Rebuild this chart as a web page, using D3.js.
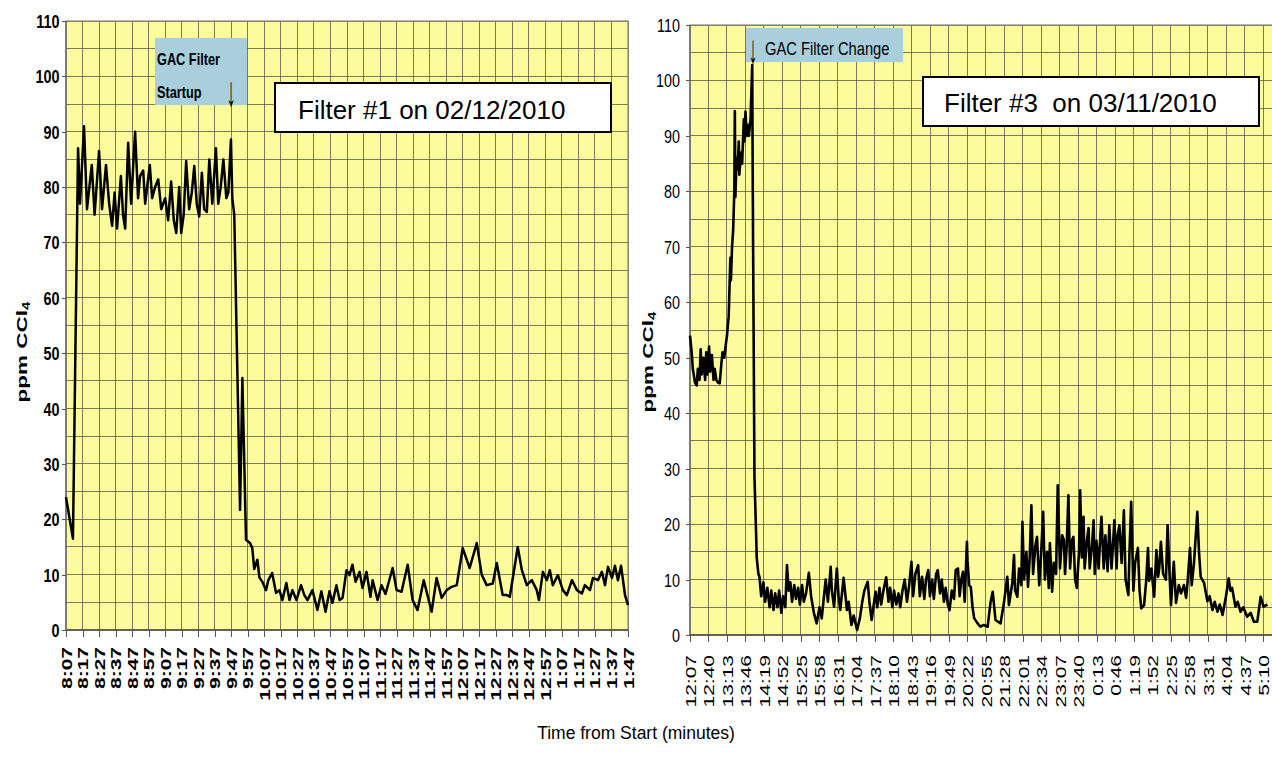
<!DOCTYPE html>
<html lang="en">
<head>
  <meta charset="UTF-8">
  <title>GAC filter CCl4</title>
</head>
<body>
<style>
  * {
    padding: 0;
    margin: 0;
  }

  body {
    background: #fff;
  }

  #chart text {
    font-family: Arial, "Liberation Sans", sans-serif;
    fill: #000;
  }

  .grid line {
    stroke: #5d5d45;
    stroke-width: 1;
    opacity: .8;
    shape-rendering: crispEdges;
  }

  .axis path {
    display: none;
  }

  .axis line {
    stroke: #555;
    shape-rendering: crispEdges;
  }
</style>

<div id="app"></div>

<script src="https://cdn.jsdelivr.net/npm/d3@7/dist/d3.min.js"></script>

<script>
  // tick labels (x = clock time, y = ppm)
  const leftTicks = ["8:07", "8:17", "8:27", "8:37", "8:47", "8:57", "9:07", "9:17", "9:27", "9:37", "9:47", "9:57",
    "10:07", "10:17", "10:27", "10:37", "10:47", "10:57", "11:07", "11:17", "11:27", "11:37", "11:47", "11:57",
    "12:07", "12:17", "12:27", "12:37", "12:47", "12:57", "1:07", "1:17", "1:27", "1:37", "1:47"];

  const rightTicks = ["12:07", "12:40", "13:13", "13:46", "14:19", "14:52", "15:25", "15:58", "16:31", "17:04",
    "17:37", "18:10", "18:43", "19:16", "19:49", "20:22", "20:55", "21:28", "22:01", "22:34", "23:07", "23:40",
    "0:13", "0:46", "1:19", "1:52", "2:25", "2:58", "3:31", "4:04", "4:37", "5:10"];

  const yTicks = [0, 10, 20, 30, 40, 50, 60, 70, 80, 90, 100, 110];

  // Filter #1 : minutes after 8:07 and ppm CCl4
  const leftTime = [0, 4.2, 7.3, 8.5, 10.9, 12.7, 15.6, 17.3, 20, 21.8,
    24.2, 26.1, 27.9, 29.4, 30.9, 33.2, 34.5, 35.8, 37.6, 39.4,
    41.8, 43.6, 44.8, 46.7, 47.9, 50.7, 52.1, 53.9, 55.8, 57.6,
    60, 61.8, 63.6, 65.2, 66.7, 68.5, 69.7, 71.2, 72.7, 74.5,
    76.1, 77.6, 79.1, 80.6, 82.2, 83.6, 85.2, 86.7, 88.5, 90.7,
    92.1, 93.6, 95.2, 97, 98.2, 99.8, 100.6, 101.8, 105.3, 106.7,
    108.9, 111.3, 112.7, 113.9, 115.8, 117, 118.8, 121, 122.4, 124.7,
    127.1, 129.1, 130.9, 133.3, 135.2, 137, 139.4, 142.2, 144.2, 146.1,
    149.1, 152.1, 154.5, 157, 159.4, 161.2, 163.6, 165.5, 167.3, 169.7,
    171.5, 173.3, 175.2, 177.6, 179.4, 181.8, 184.2, 185.5, 188.5, 190.9,
    193.3, 197.6, 200, 203, 206.7, 209.7, 212.7, 216.4, 221.2, 224.2,
    227.3, 230.3, 233.3, 236.4, 240, 244.2, 248.5, 251.5, 254.5, 258.2,
    260.6, 264.2, 266.7, 268.5, 273.3, 275.8, 278.8, 281.8, 284.8, 286.1,
    288.5, 290.9, 292.7, 294.5, 297.6, 300.6, 303, 306.1, 309.1, 312.1,
    313.9, 317, 318.8, 321.8, 324.2, 326.1, 327.9, 330.3, 332.1, 333.9,
    335.8, 338.2, 340];

  const leftPpm = [24, 16.5, 87, 77, 91, 76, 84, 75, 86.5, 76,
    84, 77, 73, 79, 72.5, 82, 75, 72.5, 88, 77,
    90, 78, 82, 83, 77, 84, 78, 80, 81.4, 76,
    78, 74, 81, 74, 71.7, 80, 71.7, 75, 84.7, 76,
    79, 83.8, 77, 74.7, 82.6, 76, 75.5, 85, 77, 87,
    77, 80, 85, 78, 79, 88.6, 78, 75, 21.7, 45.5,
    16.3, 15.7, 14.8, 11, 12.7, 9.5, 8.7, 7.2, 9, 10.3,
    6.7, 7.2, 5.4, 8.5, 5.4, 7.2, 5.4, 8.1, 6.3, 5.4,
    7.2, 3.6, 7, 3.3, 7, 4.9, 8.1, 5.4, 5.8, 10.8,
    9.9, 11.8, 8.7, 10.5, 7.6, 10.5, 6, 9, 5.4, 8.1,
    6.5, 11.2, 7.2, 6.9, 11.8, 5.4, 3.6, 9, 3.3, 9.4,
    5.8, 7.2, 7.8, 8.1, 14.8, 11.2, 15.7, 10, 8.1, 8.4,
    12.1, 6.3, 6.3, 6, 15, 10.8, 8.1, 9, 7.2, 5.4,
    10.5, 9, 10.8, 8.1, 9.9, 7.2, 6.3, 9, 7.2, 6.6,
    8.1, 7.2, 9.4, 9, 10.5, 8.1, 11.4, 9.4, 11.6, 9,
    11.6, 6.3, 4.5];

  // Filter #3 : minutes after 12:07 and ppm CCl4
  const rightTime = [0, 3, 5, 9, 12, 14, 17, 19, 21, 24,
    27, 29, 31, 34, 36, 39, 42, 44, 47, 50,
    53, 56, 58, 61, 64, 66, 69, 72, 73, 75,
    77, 79, 80, 81, 83, 85, 87, 88, 91, 93,
    96, 97, 99, 101, 103, 105, 108, 111, 112, 115,
    118, 119, 122, 124, 127, 131, 134, 138, 142, 145,
    149, 152, 156, 159, 163, 166, 170, 173, 176, 179,
    182, 186, 189, 193, 196, 200, 203, 207, 212, 216,
    221, 226, 231, 235, 242, 246, 251, 253, 257, 262,
    265, 268, 274, 280, 283, 288, 292, 298, 303, 307,
    311, 317, 320, 324, 331, 334, 338, 341, 345, 350,
    354, 357, 361, 364, 368, 372, 375, 379, 383, 387,
    391, 395, 398, 402, 407, 410, 414, 418, 421, 425,
    428, 432, 435, 439, 442, 446, 449, 453, 456, 460,
    463, 467, 471, 474, 478, 481, 484, 487, 490, 494,
    495, 498, 501, 504, 507, 513, 518, 524, 531, 536,
    540, 545, 554, 560, 566, 569, 575, 578, 580, 584,
    587, 591, 593, 596, 600, 603, 606, 609, 612, 616,
    619, 623, 626, 630, 633, 637, 640, 642, 646, 649,
    653, 656, 660, 664, 667, 669, 672, 675, 678, 681,
    684, 687, 690, 694, 696, 699, 702, 704, 708, 711,
    713, 717, 720, 722, 725, 729, 732, 734, 738, 741,
    745, 748, 752, 755, 757, 761, 763, 766, 770, 774,
    777, 782, 784, 787, 791, 794, 799, 802, 805, 810,
    814, 817, 819, 823, 828, 832, 835, 837, 840, 844,
    849, 852, 855, 858, 863, 867, 872, 876, 881, 885,
    888, 892, 895, 899, 905, 908, 911, 917, 923, 927,
    932, 936, 941, 945, 950, 956, 961, 964, 967, 973,
    977, 982, 987, 994, 1000, 1006, 1012, 1018, 1023, 1030];

  const rightPpm = [54, 51, 48, 45.5, 45, 48, 46, 51.5, 47, 50,
    46, 51, 47, 52, 47.5, 50.5, 46, 48, 46, 45.5,
    45.4, 49, 51, 50, 52.5, 54, 57.5, 68, 64, 70,
    73, 80, 94.5, 79, 86, 84, 89, 83, 87, 85,
    93, 89, 94.4, 90, 92, 90, 93, 102.8, 80, 28.5,
    18, 14, 11, 10.5, 7, 9.5, 6, 8.5, 5, 8,
    4.5, 7.5, 5, 8, 4, 7, 5, 12.6, 8, 9.5,
    6, 9, 6.5, 8.5, 5.5, 9, 6, 7.5, 11.2, 7,
    4, 2.1, 5, 3, 10, 6, 12.3, 8, 5.1, 12,
    7, 4.5, 10.3, 4.5, 6, 1.8, 3.5, 0.9, 3, 5.8,
    8, 9.6, 6, 2.7, 7.8, 5, 8.5, 5.5, 8, 10.4,
    6, 8.5, 5, 8, 5.5, 7.5, 5, 8, 10, 6,
    9, 13.2, 7, 11, 12.6, 7, 10.5, 6.5, 10, 11.7,
    7, 10, 6.5, 11, 11.7, 7.5, 10, 6, 8.5, 5.5,
    4.5, 8, 6.5, 11.7, 12, 7, 10, 11.4, 6, 16.8,
    13.5, 9, 8.6, 5, 3, 2.1, 1.5, 1.8, 1.5, 5.8,
    7.8, 2.7, 2.1, 5.8, 10.5, 5.4, 9.4, 14.4, 8, 6.9,
    12, 9, 20.4, 10, 15, 8.7, 14, 23.4, 11, 16,
    17.7, 9, 14, 22.2, 10, 15, 8.5, 16.6, 7.8, 13,
    11, 27, 12, 18, 17.1, 11, 16, 25.2, 12, 17,
    17.7, 10, 8.5, 15, 26.1, 14, 21.3, 12, 17, 19.3,
    12, 16, 20.7, 11, 17, 12, 18, 21.3, 12, 18,
    11.5, 19.8, 12, 17, 20.7, 12, 18, 19.8, 13, 22.5,
    10, 7.2, 15, 24, 8, 13, 15.7, 8, 4.8, 5.4,
    10, 15.7, 9.8, 12, 6.9, 15.3, 10.5, 12, 16.8, 11,
    10, 19.8, 12, 5.4, 13.2, 5.8, 9, 7.5, 9, 6.7,
    10, 15.7, 9, 12.9, 22.2, 15, 10.5, 9.4, 6.1, 7,
    4.5, 6, 4.2, 5.5, 3.6, 6.9, 10.2, 8, 8.5, 5.1,
    6, 4.2, 5, 3.3, 4, 2.4, 2.4, 6.9, 5.1, 5.5];


  const svg = d3.select("#app").append("svg").attr("id", "chart").attr("width", 1272).attr("height", 768)

  /**
   * @name one yellow panel with grid, line and axes
   */
  function drawPanel(p) {
    const x = d3.scaleLinear().domain([0, p.xMax]).range([p.left, p.right])
    const y = d3.scaleLinear().domain([0, 110]).range([p.bottom, p.top])
    const tickVals = p.ticks.map((t, i) => i * p.step)

    const g = svg.append("g")

    g.append("rect").attr("x", p.left).attr("y", p.top)
      .attr("width", p.right - p.left).attr("height", p.bottom - p.top)
      .attr("fill", "#fdfc9c")

    const grid = g.append("g").classed("grid", true)
    grid.selectAll("line.h").data(d3.range(5, 115, 5)).enter().append("line").classed("h", true)
      .attr("x1", p.left).attr("x2", p.right)
      .attr("y1", d => y(d)).attr("y2", d => y(d))
    grid.selectAll("line.v").data(tickVals.slice(1)).enter().append("line").classed("v", true)
      .attr("y1", p.top).attr("y2", p.bottom)
      .attr("x1", d => x(d)).attr("x2", d => x(d))

    g.append("rect").attr("x", p.left).attr("y", p.top)
      .attr("width", p.right - p.left).attr("height", p.bottom - p.top)
      .attr("fill", "none").attr("stroke", "#8a8a7a").attr("stroke-width", 1.2)

    // bottom / left axis lines
    g.append("line").attr("x1", p.left).attr("x2", p.right).attr("y1", p.bottom).attr("y2", p.bottom)
      .attr("stroke", "#444").attr("stroke-width", 1.5)
    g.append("line").attr("x1", p.left).attr("x2", p.left).attr("y1", p.top).attr("y2", p.bottom)
      .attr("stroke", "#555").attr("stroke-width", 1.2)

    const line = d3.line().x(d => x(d[0])).y(d => y(d[1]))
    g.append("path").datum(d3.zip(p.time, p.ppm))
      .attr("d", line).attr("fill", "none")
      .attr("stroke", "#000").attr("stroke-width", p.lineWidth).attr("stroke-linejoin", "round")

    // y axis
    const ya = g.append("g").classed("axis", true).attr("transform", "translate(" + p.left + ",0)")
      .call(d3.axisLeft(y).tickValues(yTicks).tickSize(4))
    ya.selectAll("text")
      .attr("x", -p.yPad / 0.8).attr("dy", "0.36em")
      .attr("transform", "scale(0.8,1)")
      .style("font-size", "18px").style("font-weight", p.bold ? "bold" : "normal")

    // x axis, rotated labels
    const xa = g.append("g").classed("axis", true).attr("transform", "translate(0," + p.bottom + ")")
      .call(d3.axisBottom(x).tickValues(tickVals).tickSize(7).tickFormat((d, i) => p.ticks[i]))
    xa.selectAll("text")
      .attr("y", 0).attr("x", -p.xPad / 1.5).attr("dy", "0.36em")
      .attr("transform", "rotate(-90) scale(1.5,1)")
      .style("text-anchor", "end")
      .style("font-size", "14px").style("font-weight", p.bold ? "bold" : "normal")

    // y title
    const t = g.append("text").attr("transform", "translate(" + p.titleX + "," + p.titleY + ") rotate(-90) scale(1.5,1)")
      .attr("text-anchor", "middle").style("font-size", "15px").style("font-weight", "bold")
    t.append("tspan").text("ppm CCl")
    t.append("tspan").text("4").style("font-size", "10px").attr("dy", "0.25em")
  }

  drawPanel({
    left: 66, right: 628, top: 21, bottom: 630, xMax: 340, step: 10,
    ticks: leftTicks, time: leftTime, ppm: leftPpm, bold: true,
    yPad: 6.5, xPad: 17, titleX: 27, titleY: 352, lineWidth: 2.5
  })

  drawPanel({
    left: 690, right: 1273, top: 25, bottom: 635, xMax: 1040, step: 33,
    ticks: rightTicks, time: rightTime, ppm: rightPpm, bold: false,
    yPad: 10, xPad: 20, titleX: 653, titleY: 362, lineWidth: 2.6
  })

  /**
   * @name annotations
   */
  svg.append("rect").attr("x", 155).attr("y", 38).attr("width", 92).attr("height", 67).attr("fill", "#a9cfdd")
  svg.append("text").attr("transform", "translate(157,65) scale(0.75,1)")
    .style("font-size", "17px").style("font-weight", "bold").text("GAC Filter")
  svg.append("text").attr("transform", "translate(157,98) scale(0.75,1)")
    .style("font-size", "17px").style("font-weight", "bold").text("Startup")
  svg.append("text").attr("transform", "translate(231,106) scale(0.45,1)").attr("text-anchor", "middle")
    .style("font-size", "42px").text("↓")

  svg.append("rect").attr("x", 746).attr("y", 28).attr("width", 157).attr("height", 34).attr("fill", "#a9cfdd")
  svg.append("text").attr("transform", "translate(753,63) scale(0.45,1)").attr("text-anchor", "middle")
    .style("font-size", "40px").text("↓")
  svg.append("text").attr("transform", "translate(765,55) scale(0.82,1)")
    .style("font-size", "18px").text("GAC Filter Change")

  svg.append("rect").attr("x", 275).attr("y", 83).attr("width", 336).attr("height", 49)
    .attr("fill", "#fff").attr("stroke", "#000").attr("stroke-width", 2)
  svg.append("text").attr("x", 298).attr("y", 119).style("font-size", "26px").text("Filter #1 on 02/12/2010")

  svg.append("rect").attr("x", 923).attr("y", 77).attr("width", 336).attr("height", 49)
    .attr("fill", "#fff").attr("stroke", "#000").attr("stroke-width", 2)
  svg.append("text").attr("x", 944).attr("y", 112).style("font-size", "26px").style("white-space", "pre")
    .text("Filter #3  on 03/11/2010")

  svg.append("text").attr("x", 636).attr("y", 739).attr("text-anchor", "middle")
    .style("font-size", "17.5px").text("Time from Start (minutes)")
</script>

</body>
</html>
